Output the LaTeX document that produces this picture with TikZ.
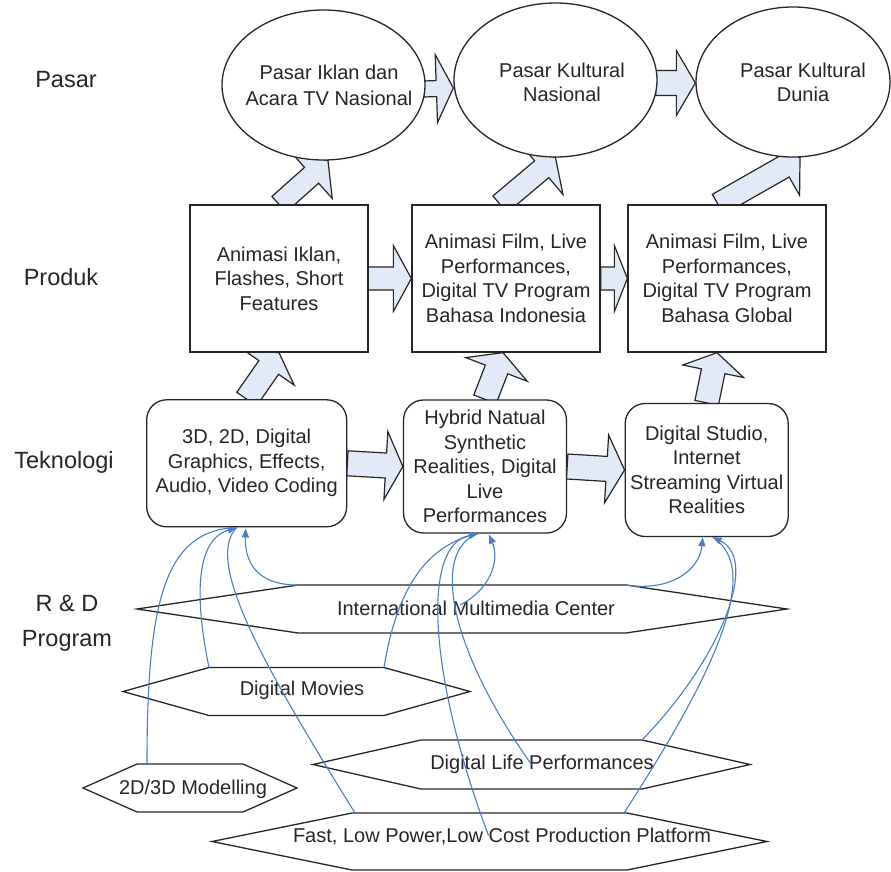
\documentclass[tikz,border=0pt]{standalone}
\usepackage{fontspec}
\setmainfont{Liberation Sans}
\usetikzlibrary{shapes.geometric,calc,arrows.meta}
\pgfdeclarelayer{background}
\pgfsetlayers{background,main}

\definecolor{arrowfill}{RGB}{226,234,247}
\definecolor{linkblue}{RGB}{74,126,200}
\definecolor{ink}{RGB}{38,38,38}

\newcommand\mainfs{\fontsize{20}{24.5}\selectfont}
\newcommand\labelfs{\fontsize{23.5}{35}\selectfont}

\tikzset{
  every node/.style={text=ink},
  shapeline/.style={draw=ink, line width=1.3pt, fill=white},
  market/.style={shapeline, ellipse, inner sep=0pt},
  prodbox/.style={shapeline, rectangle, inner sep=0pt, align=center, font=\mainfs},
  techbox/.style={shapeline, rectangle, rounded corners=20pt, inner sep=0pt, align=center, font=\mainfs},
  bodytext/.style={font=\mainfs, align=center, inner sep=0pt},
  rowlabel/.style={font=\labelfs, align=center, inner sep=0pt},
  hexframe/.style={draw=ink, line width=1.3pt, fill=white},
  blockarrow/.style={draw=ink, line width=1.2pt, fill=arrowfill, line join=miter},
  link/.style={draw=linkblue, line width=1.1pt},
  linkhead/.style={link, -{Triangle[length=9pt,width=7pt]}},
}

% block arrow: tail, tip, shaft half width, head half width, head length
\newcommand\blockarr[5]{%
  \path (#1) coordinate (ba-a) (#2) coordinate (ba-b);
  \path ($(ba-b)!#5!(ba-a)$) coordinate (ba-h);
  \draw[blockarrow] ($(ba-a)!#3!90:(ba-b)$) -- ($(ba-h)!#3!-90:(ba-a)$)
    -- ($(ba-h)!#4!-90:(ba-a)$) -- (ba-b) -- ($(ba-h)!#4!90:(ba-a)$)
    -- ($(ba-h)!#3!90:(ba-a)$) -- ($(ba-a)!#3!-90:(ba-b)$) -- cycle;
}

% flat hexagon: name, cx, cy, half width, half height, indent, text x, text y, text
\newcommand\hexnode[9]{%
  \coordinate (#1-c) at (#2,#3);
  \coordinate (#1-l) at ({#2-#4},#3);
  \coordinate (#1-tl) at ({#2-#4+#6},{#3-#5});
  \coordinate (#1-tr) at ({#2+#4-#6},{#3-#5});
  \coordinate (#1-r) at ({#2+#4},#3);
  \coordinate (#1-br) at ({#2+#4-#6},{#3+#5});
  \coordinate (#1-bl) at ({#2-#4+#6},{#3+#5});
  \draw[hexframe] (#1-l) -- (#1-tl) -- (#1-tr) -- (#1-r) -- (#1-br) -- (#1-bl) -- cycle;
  \node[bodytext] (#1) at (#7,#8) {#9};
}

\begin{document}
\begin{tikzpicture}[x=1pt,y=-1pt]
\useasboundingbox (0,0) rectangle (891,872);

% row labels
\node[rowlabel] (lpasar) at (66,80) {Pasar};
\node[rowlabel] (lproduk) at (61,277) {Produk};
\node[rowlabel] (ltek) at (64,462) {Teknologi};
\node[rowlabel] (lrd) at (67,623.5) {R \& D\\Program};

% markets
\node[market, minimum width=203pt, minimum height=150pt] (e1) at (323.5,85) {};
\node[bodytext, font=\fontsize{20}{26}\selectfont] (e1t) at (329,85) {Pasar Iklan dan\\Acara TV Nasional};
\node[market, minimum width=203pt, minimum height=154pt] (e2) at (555.5,80) {};
\node[bodytext] (e2t) at (562,82.5) {Pasar Kultural\\Nasional};
\node[market, minimum width=194pt, minimum height=150pt] (e3) at (793,82) {};
\node[bodytext] (e3t) at (803,82.5) {Pasar Kultural\\Dunia};

% products
\node[prodbox, minimum width=178pt, minimum height=147pt] (b1) at (279,278.5) {Animasi Iklan,\\Flashes, Short\\Features};
\node[prodbox, minimum width=188pt, minimum height=147pt] (b2) at (506,278.5) {Animasi Film, Live\\Performances,\\Digital TV Program\\Bahasa Indonesia};
\node[prodbox, minimum width=198pt, minimum height=147pt] (b3) at (727,278.5) {Animasi Film, Live\\Performances,\\Digital TV Program\\Bahasa Global};

% technologies
\node[techbox, minimum width=200pt, minimum height=127pt] (t1) at (246.7,463.3) {3D, 2D, Digital\\Graphics, Effects,\\Audio, Video Coding};
\node[techbox, minimum width=163pt, minimum height=133pt] (t2) at (485,466.5) {Hybrid Natual\\Synthetic\\Realities, Digital\\Live\\Performances};
\node[techbox, minimum width=163pt, minimum height=133pt] (t3) at (706.7,470) {Digital Studio,\\Internet\\Streaming Virtual\\Realities};

% R&D programs
\hexnode{h1}{462}{609}{325}{24}{161}{476}{608}{International Multimedia Center}
\hexnode{h2}{296.5}{691.5}{173.5}{24}{86}{302}{690}{Digital Movies}
\hexnode{h3}{190}{788}{107}{24}{54}{193}{789}{2D/3D Modelling}
\hexnode{h4}{531.5}{764.5}{218.5}{24.5}{108}{542}{764}{Digital Life Performances}
\hexnode{h5}{489.5}{841.5}{277.5}{28.5}{140}{502}{837}{Fast, Low Power,Low Cost Production Platform}

% block arrows behind the shapes
\begin{pgfonlayer}{background}
  \fill[white] (0,0) rectangle (891,872);
  \blockarr{$(e1.east)+(-2,4)$}{$(e2.west)+(0,8)$}{8pt}{34pt}{17pt}
  \blockarr{$(e2.east)+(-2,3)$}{$(e3.west)+(0,1)$}{12.5pt}{32.5pt}{19pt}
  \blockarr{b1.north}{$(e1.south)+(4.5,0)$}{10.6pt}{31pt}{22pt}
  \blockarr{$(b2.north)+(-6,0)$}{e2.south}{11pt}{33pt}{18pt}
  \blockarr{$(b3.north)+(-9,0)$}{$(e3.south)+(7,0)$}{11.5pt}{32.5pt}{19pt}
  \blockarr{$(b1.east)+(-2,0)$}{b2.west}{11.5pt}{33pt}{18pt}
  \blockarr{b2.east}{b3.west}{11.5pt}{33pt}{13pt}
  \blockarr{t1.north}{b1.south}{12pt}{31pt}{18pt}
  \blockarr{t2.north}{$(b2.south)+(-3,0)$}{12pt}{33pt}{18pt}
  \blockarr{t3.north}{$(b3.south)+(-10,0)$}{12pt}{31pt}{19pt}
  \blockarr{t1.east}{t2.west}{12.5pt}{34pt}{17pt}
  \blockarr{t2.east}{t3.west}{12.5pt}{34pt}{18pt}
\end{pgfonlayer}

% entry points of the links
\coordinate (t1in) at ($(t1.south)+(-10,0)$);
\coordinate (t1inb) at ($(t1.south)+(-1,1)$);
\coordinate (t2in) at ($(t2.south)+(-7,0)$);
\coordinate (t2inb) at ($(t2.south)+(4,1)$);
\coordinate (t3in) at ($(t3.south)+(-4,0)$);
\coordinate (t3inb) at ($(t3.south)+(6,0)$);

% links into the first technology
\draw[link] ($(h3-tl)+(10,0)$) .. controls +(0,-164) and +(-72,3) .. (t1in);
\draw[linkhead] (h2-tl) .. controls +(-14,-67.5) and +(-42,13) .. (t1in);
\draw[link] ($(h5-tl)+(3,0)$) .. controls +(-95,-153) and +(-32,33) .. (t1in);
\draw[linkhead] (h1-tl) .. controls +(-43,0) and +(-1,32) .. (t1inb);

% links into the second technology
\draw[link] (h2-tr) .. controls +(11,-67.5) and +(-58,12) .. (t2in);
\draw[linkhead] ($(h5-c)+(-1,-6)$) .. controls +(-58.5,-155.5) and +(-58,12) .. (t2in);
\draw[link] (h4-c) .. controls +(-81.5,-114.5) and +(-48,17) .. (t2in);
\draw[linkhead] ($(h1-c)+(-2,-4)$) .. controls +(30,-15) and +(11,26) .. (t2inb);

% links into the third technology
\draw[linkhead] (h1-tr) .. controls +(44,7) and +(-3,33) .. (t3in);
\draw[linkhead] (h4-tr) .. controls +(78,-80) and +(47,23) .. (t3inb);
\draw[link] ($(h5-tr)+(-3,0)$) .. controls +(86,-133) and +(52,33) .. (t3inb);

\end{tikzpicture}
\end{document}
